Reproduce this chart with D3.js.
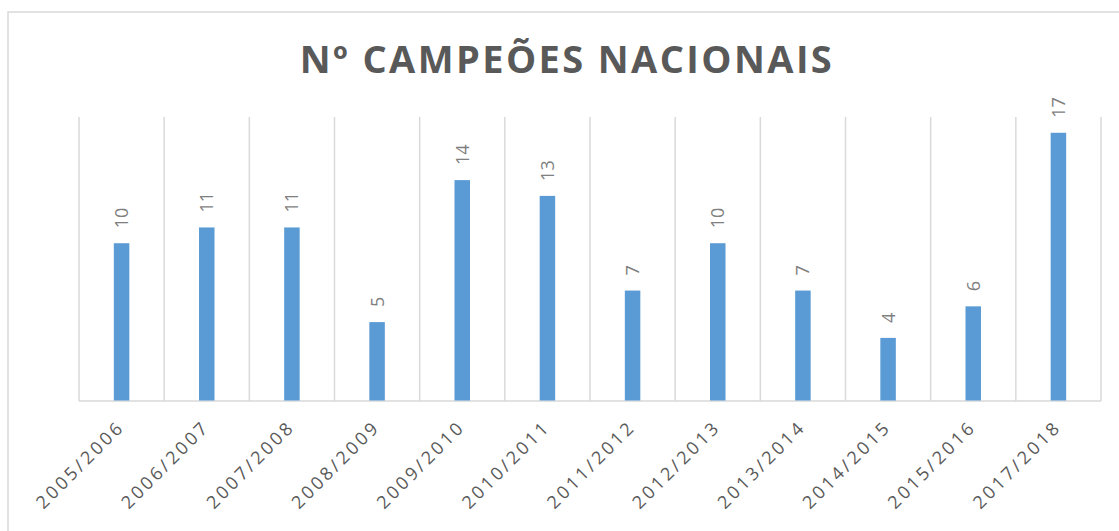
<!DOCTYPE html>
<html>
<head>
<meta charset="utf-8">
<title>Nº Campeões Nacionais</title>
<script src="https://d3js.org/d3.v7.min.js"></script>
<style>
    body { margin: 0; padding: 0; background: #fff; }
    svg { display: block; font-family: "Open Sans", "Noto Sans", sans-serif; }
    .bar { fill: #5b9bd5; }
    .grid line { stroke: #d9d9d9; stroke-width: 1.5px; }
    .value { fill: #7f7f7f; font-size: 18px; }
    .cat { fill: #595959; font-size: 18px; letter-spacing: 3px; }
    .title { fill: #595959; font-size: 38px; font-weight: bold; letter-spacing: 2.4px; }
</style>
</head>
<body>
<svg width="1119" height="531"></svg>
<script>
    // dados
    var seasons = ['2005/2006', '2006/2007', '2007/2008', '2008/2009', '2009/2010', '2010/2011',
                   '2011/2012', '2012/2013', '2013/2014', '2014/2015', '2015/2016', '2017/2018'];
    var champions = [10, 11, 11, 5, 14, 13, 7, 10, 7, 4, 6, 17];
    var titleText = 'Nº CAMPEÕES NACIONAIS';

    var svg = d3.select('svg');
    var margin = { left: 79, right: 18, top: 117, bottom: 130 };
    var width = +svg.attr('width');
    var height = +svg.attr('height');
    var plotBottom = 401;

    // moldura do gráfico
    svg.append('rect')
        .attr('x', 8).attr('y', 12)
        .attr('width', 1119).attr('height', 540)
        .attr('fill', 'none')
        .attr('stroke', '#d9d9d9')
        .attr('stroke-width', 1.5);

    svg.append('text')
        .attr('class', 'title')
        .attr('x', 567)
        .attr('y', 73)
        .attr('text-anchor', 'middle')
        .text(titleText);

    var x = d3.scaleBand()
        .domain(seasons)
        .range([margin.left, width - margin.right])
        .paddingInner(0).paddingOuter(0);

    var y = d3.scaleLinear()
        .domain([0, 18])
        .range([plotBottom, margin.top]);

    // linhas verticais entre categorias
    var bounds = seasons.map(function(d) { return x(d); }).concat([x.range()[1]]);
    svg.append('g').attr('class', 'grid')
        .selectAll('line')
        .data(bounds)
        .enter().append('line')
        .attr('x1', function(d) { return d; })
        .attr('x2', function(d) { return d; })
        .attr('y1', margin.top)
        .attr('y2', plotBottom);

    svg.append('g').attr('class', 'grid')
        .append('line')
        .attr('x1', margin.left).attr('x2', x.range()[1])
        .attr('y1', plotBottom).attr('y2', plotBottom);

    var barW = 15.5;
    svg.selectAll('.bar')
        .data(champions)
        .enter().append('rect')
        .attr('class', 'bar')
        .attr('x', function(d, i) { return x(seasons[i]) + x.bandwidth() / 2 - barW / 2; })
        .attr('y', function(d) { return y(d); })
        .attr('width', barW)
        .attr('height', function(d) { return plotBottom - y(d) - 0.5; });

    // rótulos de valores
    svg.selectAll('.value')
        .data(champions)
        .enter().append('text')
        .attr('class', 'value')
        .attr('transform', function(d, i) {
            var cx = x(seasons[i]) + x.bandwidth() / 2;
            return 'translate(' + (cx + 6.5) + ',' + (y(d) - 15) + ') rotate(-90)';
        })
        .text(function(d) { return d; });

    // rótulos do eixo x
    svg.selectAll('.cat')
        .data(seasons)
        .enter().append('text')
        .attr('class', 'cat')
        .attr('text-anchor', 'end')
        .attr('transform', function(d) {
            var cx = x(d) + x.bandwidth() / 2;
            return 'translate(' + (cx + 4) + ',' + (plotBottom + 27) + ') rotate(-45)';
        })
        .text(function(d) { return d; });
</script>
</body>
</html>
